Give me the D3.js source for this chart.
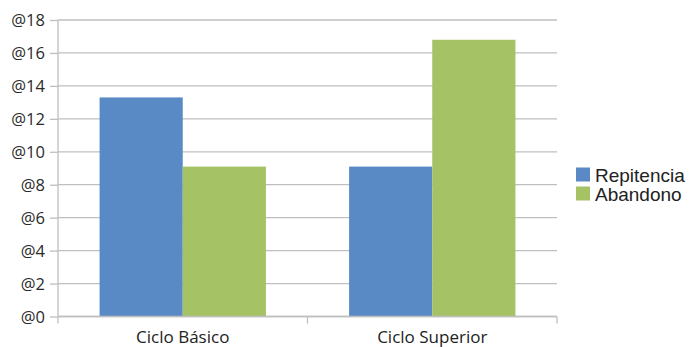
<!DOCTYPE html>
<html>
<head>
<meta charset="utf-8">
<script src="https://cdn.jsdelivr.net/npm/d3@7"></script>
<style>
  html, body { margin: 0; padding: 0; background: #fff; }
  svg { display: block; }
</style>
</head>
<body>
<svg id="chart" width="689" height="347"></svg>
<script>
const categories = ["Ciclo Básico", "Ciclo Superior"];
const seriesNames = ["Repitencia", "Abandono"];
const repitencia = [13.3, 9.1];
const abandono = [9.1, 16.8];
const yTicks = [0, 2, 4, 6, 8, 10, 12, 14, 16, 18];
const yTickLabels = ["@0", "@2", "@4", "@6", "@8", "@10", "@12", "@14", "@16", "@18"];
const colors = ["#5A8AC6", "#A5C264"];

(function () {
const seriesValues = [repitencia, abandono];
const svg = d3.select("#chart");

const mLeft = 58, mRight = 557, mTop = 20, mBottom = 316.5;

const x = d3.scaleBand().domain(categories).range([mLeft, mRight]).paddingInner(0).paddingOuter(0);
const xs = d3.scaleBand().domain(seriesNames).range([0, x.bandwidth()]).paddingInner(0).paddingOuter(0.5);
const y = d3.scaleLinear().domain([0, 18]).range([mBottom, mTop]);

const gridColor = "#BFBFBF";

// gridlines
svg.append("g")
  .selectAll("line")
  .data(yTicks)
  .join("line")
  .attr("x1", mLeft).attr("x2", mRight)
  .attr("y1", d => y(d)).attr("y2", d => y(d))
  .attr("stroke", gridColor).attr("stroke-width", 1.3);

// y axis
const yAxis = d3.axisLeft(y)
  .tickValues(yTicks)
  .tickFormat((d, i) => yTickLabels[i])
  .tickSize(8)
  .tickPadding(5);
const gy = svg.append("g").attr("transform", `translate(${mLeft},0)`).call(yAxis);
gy.select(".domain").attr("stroke", gridColor).attr("stroke-width", 1.3).attr("d", `M0,${mTop}V${mBottom}`);
gy.selectAll(".tick line").attr("stroke", gridColor).attr("stroke-width", 1.3);
gy.selectAll(".tick text")
  .attr("font-family", "'Open Sans', sans-serif")
  .attr("font-size", "16.5px")
  .attr("fill", "#2a2a2a")
  .attr("dy", "0.36em");

// bars
const g = svg.append("g");
seriesNames.forEach((s, si) => {
  g.append("g")
    .selectAll("rect")
    .data(categories.map((c, ci) => ({ c, v: seriesValues[si][ci] })))
    .join("rect")
    .attr("x", d => x(d.c) + xs(s))
    .attr("width", xs.bandwidth())
    .attr("y", d => y(d.v))
    .attr("height", d => y(0) - y(d.v))
    .attr("fill", colors[si]);
});

// x axis
const xAxisScale = d3.scaleLinear().domain([0, categories.length]).range([mLeft, mRight]);
const gx = svg.append("g").attr("transform", `translate(0,${mBottom})`);
gx.append("line")
  .attr("x1", mLeft).attr("x2", mRight).attr("y1", 0).attr("y2", 0)
  .attr("stroke", gridColor).attr("stroke-width", 1.3);
gx.selectAll("line.tk")
  .data(d3.range(categories.length + 1))
  .join("line")
  .attr("class", "tk")
  .attr("x1", d => xAxisScale(d)).attr("x2", d => xAxisScale(d))
  .attr("y1", 0).attr("y2", 7)
  .attr("stroke", gridColor).attr("stroke-width", 1.3);
gx.selectAll("text")
  .data(categories)
  .join("text")
  .attr("x", d => x(d) + x.bandwidth() / 2)
  .attr("y", 26)
  .attr("text-anchor", "middle")
  .attr("font-family", "'Open Sans', sans-serif")
  .attr("font-size", "17px")
  .attr("fill", "#222")
  .text(d => d);

// legend
const lg = svg.append("g").attr("transform", "translate(576,167.5)");
seriesNames.forEach((s, i) => {
  const row = lg.append("g").attr("transform", `translate(0,${i * 19})`);
  row.append("rect").attr("width", 14).attr("height", 14).attr("fill", colors[i]);
  row.append("text")
    .attr("x", 19).attr("y", 14)
    .attr("font-family", "'Liberation Sans', Arial, sans-serif")
    .attr("font-size", "19px")
    .attr("fill", "#222")
    .text(s);
});
})();
</script>
</body>
</html>
